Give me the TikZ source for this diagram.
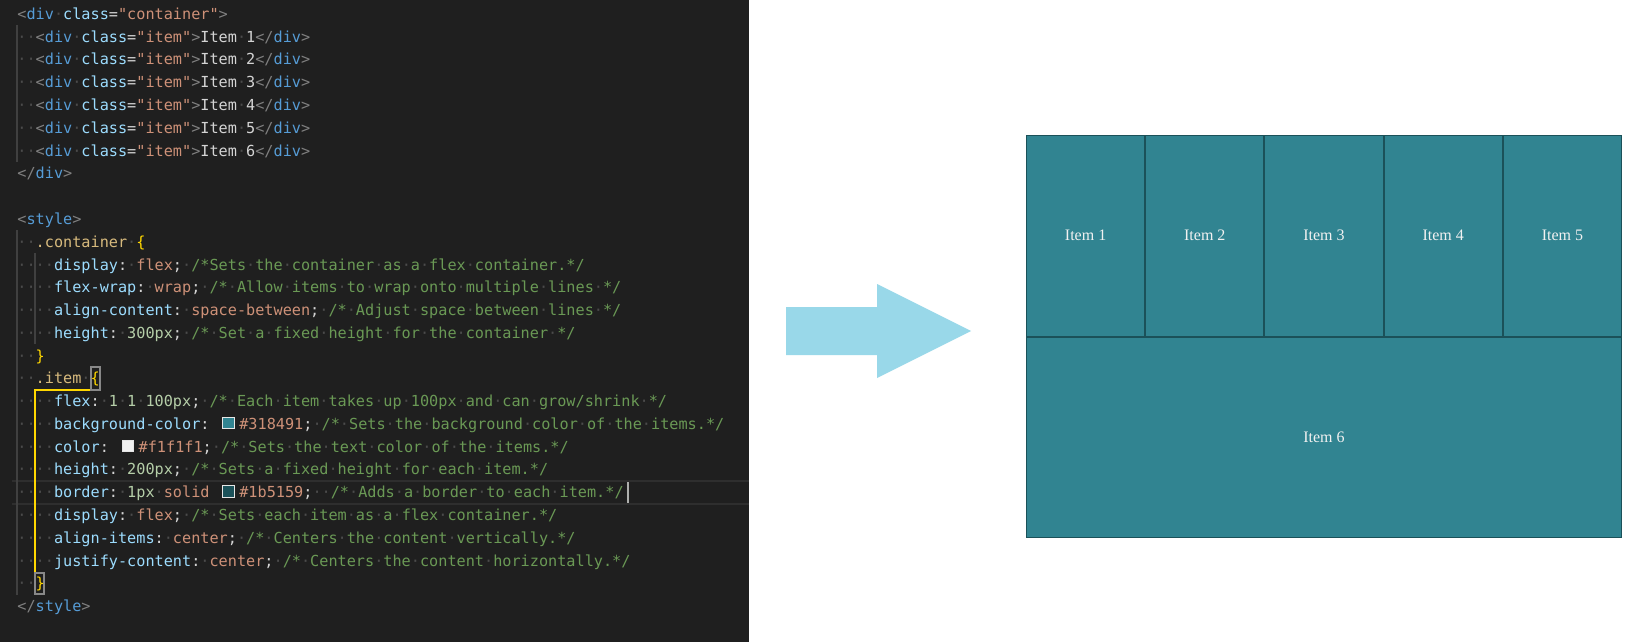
\documentclass[tikz,border=0pt]{standalone}
\usepackage{fontspec}
\setmonofont{DejaVu Sans Mono}
\newfontfamily\itemfont{Liberation Serif}
\definecolor{panel}{HTML}{1F1F1F}
\definecolor{codefg}{HTML}{D4D4D4}
\definecolor{tagbr}{HTML}{808080}
\definecolor{tagname}{HTML}{569CD6}
\definecolor{attr}{HTML}{9CDCFE}
\definecolor{strc}{HTML}{CE9178}
\definecolor{cmtc}{HTML}{6A9955}
\definecolor{numc}{HTML}{B5CEA8}
\definecolor{selc}{HTML}{D7BA7D}
\definecolor{bracec}{HTML}{FFD700}
\definecolor{wsc}{HTML}{4B4B4B}
\definecolor{guide}{HTML}{404040}
\definecolor{matchbox}{HTML}{888888}
\definecolor{linehl}{HTML}{2E2E2E}
\definecolor{cursorc}{HTML}{AEAFAD}
\definecolor{swb}{HTML}{E6E6E6}
\definecolor{c318491}{HTML}{318491}
\definecolor{cf1f1f1}{HTML}{F1F1F1}
\definecolor{c1b5159}{HTML}{1B5159}
\definecolor{arrowc}{HTML}{99D8E9}
\newcommand{\ws}{\textcolor{wsc}{·}}
\newcommand{\nsp}{\hphantom{x}}
\newcommand{\tgb}[1]{\textcolor{tagbr}{#1}}
\newcommand{\tgn}[1]{\textcolor{tagname}{#1}}
\newcommand{\atr}[1]{\textcolor{attr}{#1}}
\newcommand{\strv}[1]{\textcolor{strc}{#1}}
\newcommand{\cmt}[1]{\textcolor{cmtc}{#1}}
\newcommand{\nmb}[1]{\textcolor{numc}{#1}}
\newcommand{\sel}[1]{\textcolor{selc}{#1}}
\newcommand{\brc}[1]{\textcolor{bracec}{#1}}
\newcommand{\swatch}[1]{\makebox[10.3pt][l]{\hspace{1.8pt}\textcolor{swb}{\rule{6.2pt}{6.2pt}}\hspace{-5.7pt}\textcolor{#1}{\rule[0.5pt]{5.2pt}{5.2pt}}}}
\tikzset{
  code/.style={anchor=base west, inner sep=0pt, text=codefg,
    font=\ttfamily\fontsize{7.6pt}{9pt}\selectfont},
  item/.style={draw=c1b5159, fill=c318491, text=cf1f1f1, line width=0.5pt,
    minimum width=59.1pt, minimum height=100.25pt, inner sep=0pt,
    font=\itemfont\fontsize{8pt}{9.6pt}\selectfont},
}
\begin{document}
\begin{tikzpicture}[x=0.5pt, y=-0.5pt]
  \useasboundingbox (0,0) rectangle (1639,642);
  \fill[white] (0,0) rectangle (1639,642);
  \fill[panel] (0,0) rectangle (749,642);
  % editor decorations
  \draw[linehl, line width=1pt] (12,481) -- (749,481) (12,503.5) -- (749,503.5);
  \draw[guide, line width=1pt] (16.7,25.3) -- (16.7,162)
    (16.7,230) -- (16.7,594.6) (34.5,253) -- (34.5,344);
  \draw[bracec, line width=1pt] (90.6,389.6) -- (34.5,389.6) -- (34.5,571.8);
  \draw[matchbox, line width=1pt] (90.6,366.8) rectangle (99.8,389.6)
    (34.5,572.5) rectangle (44.1,593.5);
  \fill[cursorc] (626.8,481.5) rectangle (628.8,503);
  % code
  \node[code] (l1) at (17,19.5) {\tgb{<}\tgn{div}\ws\atr{class}=\strv{"container"}\tgb{>}};
  \node[code] (l2) at (17,42.3) {\ws\ws\tgb{<}\tgn{div}\ws\atr{class}=\strv{"item"}\tgb{>}Item\ws 1\tgb{</}\tgn{div}\tgb{>}};
  \node[code] (l3) at (17,65.0) {\ws\ws\tgb{<}\tgn{div}\ws\atr{class}=\strv{"item"}\tgb{>}Item\ws 2\tgb{</}\tgn{div}\tgb{>}};
  \node[code] (l4) at (17,87.8) {\ws\ws\tgb{<}\tgn{div}\ws\atr{class}=\strv{"item"}\tgb{>}Item\ws 3\tgb{</}\tgn{div}\tgb{>}};
  \node[code] (l5) at (17,110.6) {\ws\ws\tgb{<}\tgn{div}\ws\atr{class}=\strv{"item"}\tgb{>}Item\ws 4\tgb{</}\tgn{div}\tgb{>}};
  \node[code] (l6) at (17,133.4) {\ws\ws\tgb{<}\tgn{div}\ws\atr{class}=\strv{"item"}\tgb{>}Item\ws 5\tgb{</}\tgn{div}\tgb{>}};
  \node[code] (l7) at (17,156.1) {\ws\ws\tgb{<}\tgn{div}\ws\atr{class}=\strv{"item"}\tgb{>}Item\ws 6\tgb{</}\tgn{div}\tgb{>}};
  \node[code] (l8) at (17,178.9) {\tgb{</}\tgn{div}\tgb{>}};
  \node[code] (l10) at (17,224.4) {\tgb{<}\tgn{style}\tgb{>}};
  \node[code] (l11) at (17,247.2) {\ws\ws\sel{.container}\ws\brc{\{}};
  \node[code] (l12) at (17,270.0) {\ws\ws\ws\ws\atr{display}:\ws\strv{flex};\ws\cmt{/*Sets\ws the\ws container\ws as\ws a\ws flex\ws container.*/}};
  \node[code] (l13) at (17,292.7) {\ws\ws\ws\ws\atr{flex-wrap}:\ws\strv{wrap};\ws\cmt{/*\ws Allow\ws items\ws to\ws wrap\ws onto\ws multiple\ws lines\ws */}};
  \node[code] (l14) at (17,315.5) {\ws\ws\ws\ws\atr{align-content}:\ws\strv{space-between};\ws\cmt{/*\ws Adjust\ws space\ws between\ws lines\ws */}};
  \node[code] (l15) at (17,338.3) {\ws\ws\ws\ws\atr{height}:\ws\nmb{300px};\ws\cmt{/*\ws Set\ws a\ws fixed\ws height\ws for\ws the\ws container\ws */}};
  \node[code] (l16) at (17,361.1) {\ws\ws\brc{\}}};
  \node[code] (l17) at (17,383.8) {\ws\ws\sel{.item}\ws\brc{\{}};
  \node[code] (l18) at (17,406.6) {\ws\ws\ws\ws\atr{flex}:\ws\nmb{1}\ws\nmb{1}\ws\nmb{100px};\ws\cmt{/*\ws Each\ws item\ws takes\ws up\ws 100px\ws and\ws can\ws grow/shrink\ws */}};
  \node[code] (l19) at (17,429.4) {\ws\ws\ws\ws\atr{background-color}:\nsp\swatch{c318491}\strv{\#318491};\ws\cmt{/*\ws Sets\ws the\ws background\ws color\ws of\ws the\ws items.*/}};
  \node[code] (l20) at (17,452.1) {\ws\ws\ws\ws\atr{color}:\nsp\swatch{cf1f1f1}\strv{\#f1f1f1};\ws\cmt{/*\ws Sets\ws the\ws text\ws color\ws of\ws the\ws items.*/}};
  \node[code] (l21) at (17,474.9) {\ws\ws\ws\ws\atr{height}:\ws\nmb{200px};\ws\cmt{/*\ws Sets\ws a\ws fixed\ws height\ws for\ws each\ws item.*/}};
  \node[code] (l22) at (17,497.7) {\ws\ws\ws\ws\atr{border}:\ws\nmb{1px}\ws\strv{solid}\nsp\swatch{c1b5159}\strv{\#1b5159};\ws\ws\cmt{/*\ws Adds\ws a\ws border\ws to\ws each\ws item.*/}};
  \node[code] (l23) at (17,520.5) {\ws\ws\ws\ws\atr{display}:\ws\strv{flex};\ws\cmt{/*\ws Sets\ws each\ws item\ws as\ws a\ws flex\ws container.*/}};
  \node[code] (l24) at (17,543.2) {\ws\ws\ws\ws\atr{align-items}:\ws\strv{center};\ws\cmt{/*\ws Centers\ws the\ws content\ws vertically.*/}};
  \node[code] (l25) at (17,566.0) {\ws\ws\ws\ws\atr{justify-content}:\ws\strv{center};\ws\cmt{/*\ws Centers\ws the\ws content\ws horizontally.*/}};
  \node[code] (l26) at (17,588.8) {\ws\ws\brc{\}}};
  \node[code] (l27) at (17,611.5) {\tgb{</}\tgn{style}\tgb{>}};
  % arrow
  \fill[arrowc] (786,307) -- (877,307) -- (877,284) -- (971,331)
    -- (877,378) -- (877,355) -- (786,355) -- cycle;
  % flex items
  \node[item] (i1) at (1085.6,235.75) {Item 1};
  \node[item] (i2) at (1204.8,235.75) {Item 2};
  \node[item] (i3) at (1324.0,235.75) {Item 3};
  \node[item] (i4) at (1443.2,235.75) {Item 4};
  \node[item] (i5) at (1562.4,235.75) {Item 5};
  \node[item, minimum width=297.5pt] (i6) at (1324.0,437.25) {Item 6};
\end{tikzpicture}
\end{document}
